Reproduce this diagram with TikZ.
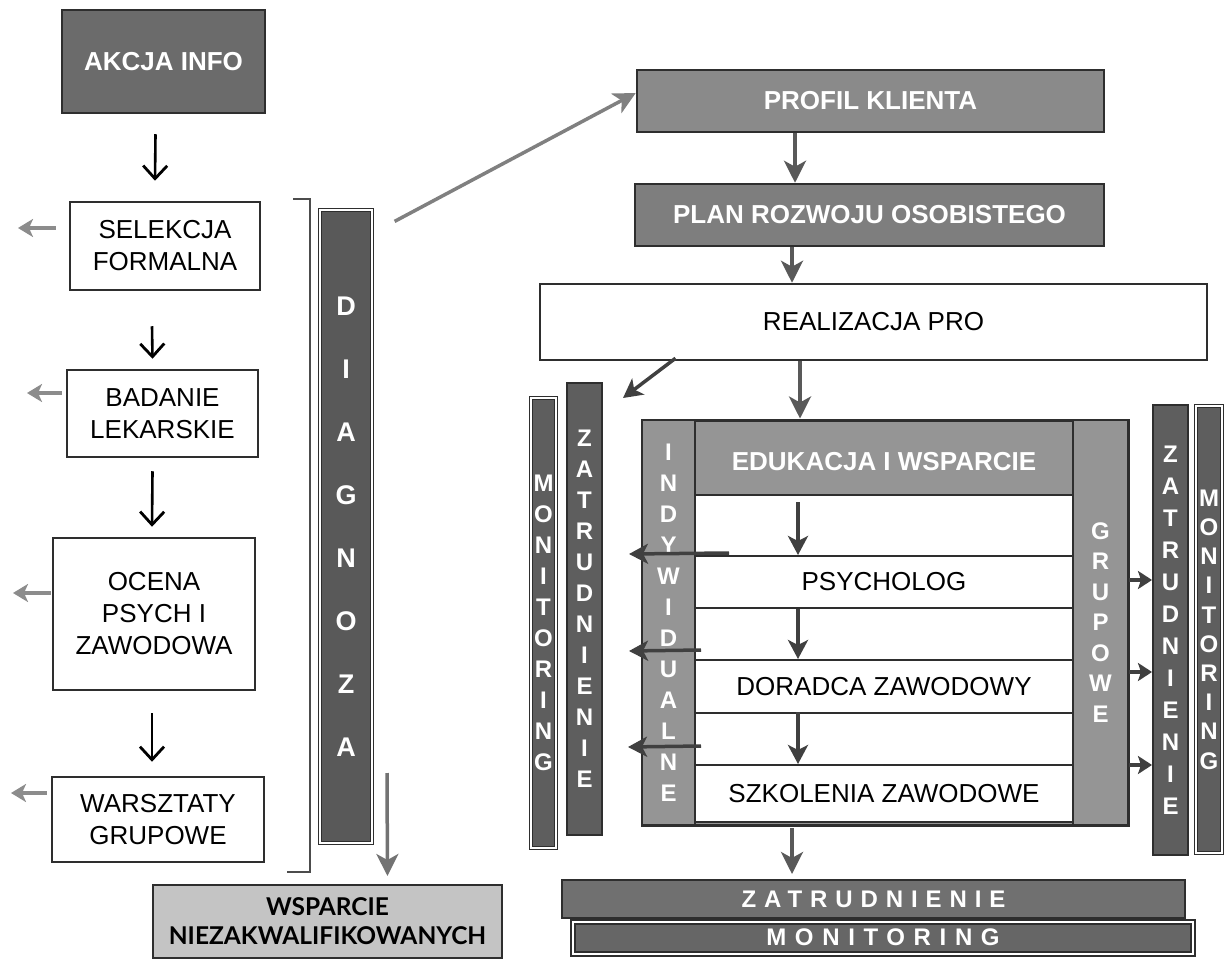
\documentclass[tikz,border=0pt]{standalone}
\usepackage{fontspec}
\setmainfont{Liberation Sans}
\newfontfamily\gillfont{Lato}
\usetikzlibrary{arrows.meta}
\definecolor{akcfill}{HTML}{6B6B6B}
\definecolor{profill}{HTML}{8A8A8A}
\definecolor{planfill}{HTML}{7E7E7E}
\definecolor{midfill}{HTML}{959595}
\definecolor{colfill}{HTML}{5E5E5E}
\definecolor{diagfill}{HTML}{595959}
\definecolor{zatfill}{HTML}{707070}
\definecolor{monfill}{HTML}{666666}
\definecolor{lightfill}{HTML}{C4C4C4}
\definecolor{edge}{HTML}{2E2E2E}
\begin{document}
\begin{tikzpicture}[x=1pt,y=-1pt,
  sz/.style 2 args={minimum width=#1pt,minimum height=#2pt},
  whitebox/.style={draw=edge,line width=2.5pt,fill=white,inner sep=0pt,align=center,
    font=\fontsize{26}{32}\selectfont},
  darkbox/.style={draw=edge,line width=2.5pt,fill=akcfill,text=white,inner sep=0pt,align=center,
    font=\fontsize{26}{32}\selectfont\bfseries},
  vcol/.style={draw=edge,line width=2pt,fill=colfill,text=white,inner sep=0pt,align=center,
    font=\fontsize{24}{31}\selectfont\bfseries},
  rowbox/.style={draw=edge,line width=2pt,fill=white,inner sep=0pt,align=center,
    font=\fontsize{26}{32}\selectfont},
  blackarr/.style={draw=black,line width=2.6pt,-{Straight Barb[length=13pt,width=24pt,line width=2.8pt]}},
  grayarr/.style={draw=black!65,line width=3.5pt,-{Stealth[length=22pt,width=22pt,inset=6pt]}},
  smallarr/.style={draw=black!45,line width=4.5pt,-{Stealth[length=15pt,width=18pt,inset=4pt]}},
  darkarr/.style={draw=black!75,line width=3.5pt,-{Stealth[length=19pt,width=20pt,inset=5pt]}},
  sidearr/.style={draw=black!75,line width=3.5pt,-{Stealth[length=14pt,width=18pt,inset=3pt]}},
  bracketline/.style={draw=black!70,line width=2.5pt}
]
\useasboundingbox (0,0) rectangle (1228,965);
\fill[white] (0,0) rectangle (1228,965);

% ---------- left column ----------
\node[darkbox,sz={203}{103}] (akcja) at (163.5,61.5) {AKCJA INFO};
\node[whitebox,sz={190}{88}] (selekcja) at (165,246) {SELEKCJA\\FORMALNA};
\node[whitebox,sz={191}{87}] (badanie) at (162.5,413.5) {BADANIE\\LEKARSKIE};
\node[whitebox,sz={202}{152}] (ocena) at (154,614) {OCENA\\PSYCH I\\ZAWODOWA};
\node[whitebox,sz={212}{85}] (warsztaty) at (158,819.5) {WARSZTATY\\GRUPOWE};

\draw[blackarr] ([xshift=-8pt,yshift=-20pt]akcja.south) -- ([xshift=-10pt,yshift=20pt]selekcja.north);
\draw[blackarr] ([xshift=-13pt,yshift=-35pt]selekcja.south) -- ([xshift=-10pt,yshift=10pt]badanie.north);
\draw[blackarr] ([xshift=-10pt,yshift=-13pt]badanie.south) -- ([xshift=-2pt,yshift=10pt]ocena.north);
\draw[blackarr] ([xshift=-2pt,yshift=-22pt]ocena.south) -- ([xshift=-6pt,yshift=14pt]warsztaty.north);

\coordinate (ls1) at (18,228);
\coordinate (ls2) at (27,393);
\coordinate (ls3) at (13,593);
\coordinate (ls4) at (11,793);
\draw[smallarr] ([xshift=-13pt,yshift=18pt]selekcja.west) -- (ls1);
\draw[smallarr] ([xshift=-4pt,yshift=20.5pt]badanie.west) -- (ls2);
\draw[smallarr] ([xshift=-1pt,yshift=21pt]ocena.west) -- (ls3);
\draw[smallarr] ([xshift=-4pt,yshift=26.5pt]warsztaty.west) -- (ls4);

% bracket
\draw[bracketline] (293,199) -- (310,199) -- (310,872) -- (287,872);

% DIAGNOZA column
\node[vcol,fill=diagfill,sz={52}{633},font=\fontsize{27}{63}\selectfont\bfseries,
  double=white,double distance=2pt,line width=1.2pt] (diag) at (346,526.5)
  {D\\I\\A\\G\\N\\O\\Z\\A};

% WSPARCIE
\node[draw=edge,line width=2pt,fill=lightfill,inner sep=0pt,align=center,sz={349}{73},
  font=\gillfont\bfseries\fontsize{24.5}{29}\selectfont] (wsparcie) at (327.5,921.5)
  {WSPARCIE\\NIEZAKWALIFIKOWANYCH};
\coordinate (wsstart) at (387,773);
\draw[grayarr,draw=black!55] (wsstart) -- ([xshift=60pt,yshift=8pt]wsparcie.north);

% ---------- right part ----------
\node[darkbox,fill=profill,sz={467}{62}] (profil) at (870.5,101) {PROFIL KLIENTA};
\node[darkbox,fill=planfill,sz={469}{62}] (plan) at (869.5,215) {PLAN ROZWOJU OSOBISTEGO};
\node[whitebox,sz={667}{76}] (realiz) at (873.5,322) {REALIZACJA PRO};

\draw[grayarr,draw=black!50] ([xshift=22pt,yshift=-12pt]diag.north east) -- ([yshift=8pt]profil.west);
\draw[grayarr] ([xshift=-75.5pt]profil.south) -- ([xshift=-74.5pt]plan.north);
\draw[grayarr] ([xshift=-77.5pt]plan.south) -- ([xshift=-81.5pt]realiz.north);

\coordinate (diagend) at (623,398);
\draw[darkarr] ([xshift=-198pt,yshift=3pt]realiz.south) -- (diagend);

% frame
\node[draw=edge,line width=3pt,fill=midfill,inner sep=0pt,sz={486}{405}] (frame) at (885,622.5) {};
\draw[grayarr] ([xshift=-73.5pt]realiz.south) -- ([xshift=-85pt]frame.north);
\node[draw=edge,line width=2pt,fill=midfill,inner sep=0pt,sz={53}{405},text=white,align=center,
  font=\fontsize{24}{31}\selectfont\bfseries] (indyw) at (668.5,622.5)
  {I\\N\\D\\Y\\W\\I\\D\\U\\A\\L\\N\\E};
\node[draw=edge,line width=2pt,fill=midfill,inner sep=0pt,sz={55}{405},text=white,align=center,
  font=\fontsize{24}{30.5}\selectfont\bfseries] (grup) at (1100.5,622.5)
  {G\\R\\U\\P\\O\\W\\E};
\node[inner sep=0pt,sz={378}{75},text=white,font=\fontsize{26}{32}\selectfont\bfseries] (header) at (884,462)
  {EDUKACJA I WSPARCIE};

% rows
\node[rowbox,sz={378}{61}] (r0) at (884,525.5) {};
\node[rowbox,sz={378}{52}] (psych) at (884,582) {\raisebox{-6pt}{PSYCHOLOG}};
\node[rowbox,sz={378}{52}] (r2) at (884,634) {};
\node[rowbox,sz={378}{53}] (dor) at (884,686.5) {\raisebox{-8pt}{DORADCA ZAWODOWY}};
\node[rowbox,sz={378}{52}] (r4) at (884,739) {};
\node[rowbox,sz={378}{57}] (szk) at (884,793.5) {\raisebox{-6pt}{SZKOLENIA ZAWODOWE}};

\draw[darkarr] ([xshift=-86pt,yshift=-8pt]r0.north) -- ([xshift=-86pt]psych.north);
\draw[darkarr] ([xshift=-86pt,yshift=-2pt]r2.north) -- ([xshift=-86pt]dor.north);
\draw[darkarr] ([xshift=-86pt]r4.north) -- ([xshift=-86pt]szk.north);

\coordinate (la1) at (629,554);
\coordinate (la2) at (629,651);
\coordinate (la3) at (628,747);
\draw[darkarr] ([xshift=35pt,yshift=2pt]psych.north west) -- (la1);
\draw[darkarr] ([xshift=7pt,yshift=9pt]dor.north west) -- (la2);
\draw[darkarr] ([xshift=7pt,yshift=18pt]szk.north west) -- (la3);

% side columns
\node[vcol,sz={25}{450},double=white,double distance=2pt,line width=1.2pt] (monL) at (543.5,623)
  {M\\O\\N\\I\\T\\O\\R\\I\\N\\G};
\node[vcol,sz={35}{452}] (zatL) at (584.5,609)
  {Z\\A\\T\\R\\U\\D\\N\\I\\E\\N\\I\\E};
\node[vcol,sz={35}{450},font=\fontsize{24}{32}\selectfont\bfseries] (zatR) at (1170.5,630)
  {Z\\A\\T\\R\\U\\D\\N\\I\\E\\N\\I\\E};
\node[vcol,sz={26}{447},double=white,double distance=2pt,line width=1.2pt,
  font=\fontsize{24}{29.2}\selectfont\bfseries] (monR) at (1209,629.5)
  {M\\O\\N\\I\\T\\O\\R\\I\\N\\G};

\draw[sidearr] ([yshift=42.5pt]grup.east) -- ([yshift=50pt]zatR.west);
\draw[sidearr] ([yshift=-49.5pt]grup.east) -- ([yshift=-42pt]zatR.west);
\draw[sidearr] ([yshift=-142.5pt]grup.east) -- ([yshift=-135pt]zatR.west);

% bottom bars
\node[draw=edge,line width=2pt,fill=zatfill,inner sep=0pt,sz={623}{38},text=white,
  font=\fontsize{24}{28}\selectfont\bfseries\addfontfeatures{LetterSpace=33}] (zatB) at (873.5,899)
  {ZATRUDNIENIE};
\node[draw=edge,line width=2pt,fill=monfill,inner sep=0pt,sz={620}{32},text=white,
  double=white,double distance=2pt,
  font=\fontsize{24}{28}\selectfont\bfseries\addfontfeatures{LetterSpace=36}] (monB) at (883,937.5)
  {MONITORING};

\draw[grayarr] ([xshift=-92pt,yshift=-5pt]szk.south) -- ([xshift=-81.5pt,yshift=5pt]zatB.north);
\end{tikzpicture}
\end{document}
